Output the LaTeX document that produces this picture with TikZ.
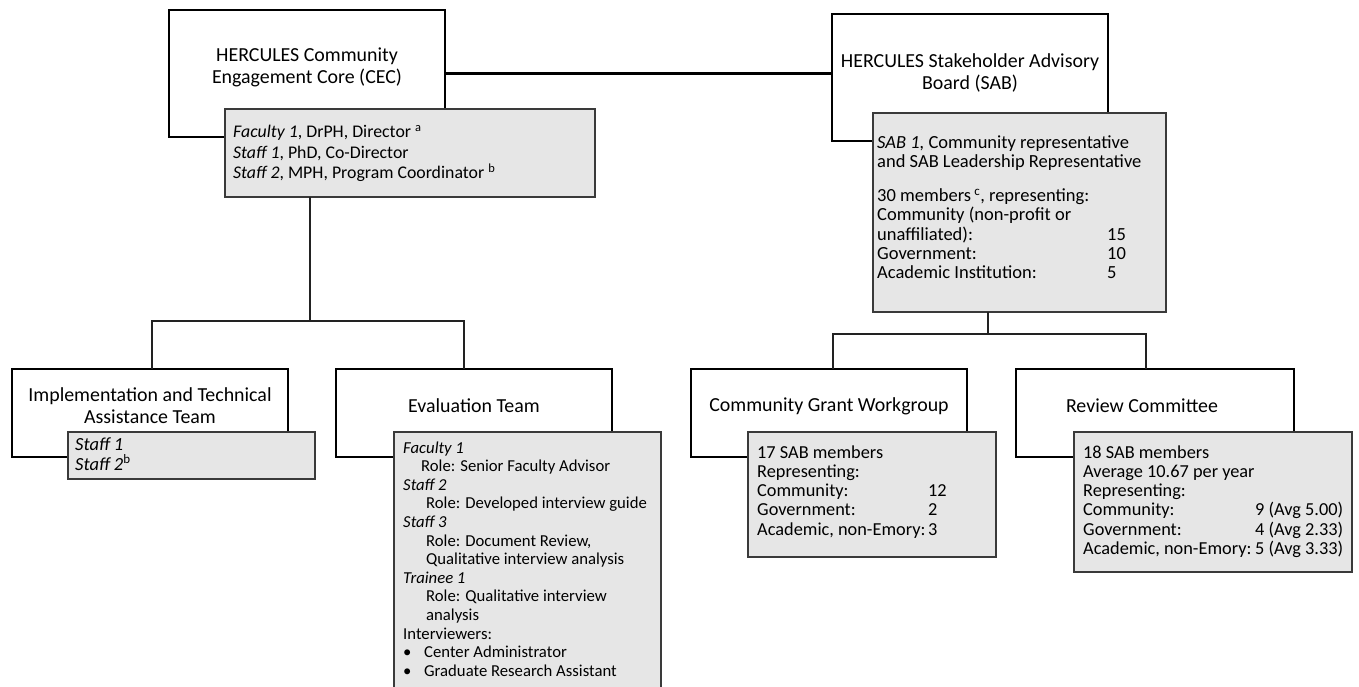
\documentclass[tikz,border=0pt]{standalone}
\usepackage{fontspec}
\setmainfont{Carlito}
\definecolor{boxgray}{HTML}{E6E6E6}
\definecolor{boxline}{HTML}{3A3A3A}
\definecolor{connline}{HTML}{222222}
\begin{document}
\begin{tikzpicture}[x=1pt,y=-1pt,
  outerbox/.style={draw=black, line width=2pt, fill=white, anchor=north west, inner sep=0pt, outer sep=0pt},
  graybox/.style={draw=boxline, line width=1.4pt, fill=boxgray, anchor=north west, inner sep=0pt, outer sep=0pt},
  headtxt/.style={align=center, inner sep=0pt, font=\fontsize{19.9}{22}\selectfont},
  bodytxt/.style={anchor=base west, inner sep=0pt},
  conn/.style={draw=connline, line width=1.4pt},
  mainconn/.style={draw=black, line width=3pt},
]
\useasboundingbox (0,0) rectangle (1359,686);
\clip (0,0) rectangle (1359,686);

% ---------- top level ----------
\node[outerbox, minimum width=276pt, minimum height=127pt] (cec) at (169,10) {};
\node[headtxt] (cect) at (307,67.5) {HERCULES Community\\Engagement Core (CEC)};
\node[graybox, minimum width=370pt, minimum height=88pt] (cecg) at (225,109) {};
\node[bodytxt] (cecgt) at (233,137.5) {\parbox[t]{355pt}{\fontsize{17.8}{20.5}\selectfont
  \textit{Faculty 1}, DrPH, Director \textsuperscript{a}\\
  \textit{Staff 1}, PhD, Co-Director\\
  \textit{Staff 2}, MPH, Program Coordinator \textsuperscript{b}}};

\node[outerbox, minimum width=276pt, minimum height=127pt] (sab) at (832,14) {};
\node[headtxt] (sabt) at (970,72.5) {HERCULES Stakeholder Advisory\\Board (SAB)};
\node[graybox, minimum width=293pt, minimum height=199pt] (sabg) at (873,113) {};
\node[bodytxt] (sabgt) at (877,148) {\parbox[t]{285pt}{\fontsize{18.5}{19.4}\selectfont
  \textit{SAB 1,} Community representative\\
  and SAB Leadership Representative\\[14.5pt]
  30 members\,\textsuperscript{c}, representing:\\
  Community (non-profit or\\
  \makebox[230pt][l]{unaffiliated):}15\\
  \makebox[230pt][l]{Government:}10\\
  \makebox[230pt][l]{Academic Institution:}5}};

\draw[mainconn] (cec.east) -- (cec.east -| sab.west);

% ---------- left branch ----------
\node[outerbox, minimum width=276pt, minimum height=88pt] (impl) at (12,369) {};
\node[headtxt] (implt) at (150,405.5) {Implementation and Technical\\Assistance Team};
\node[graybox, minimum width=247pt, minimum height=47pt] (implg) at (68,432) {};
\node[bodytxt] (implgt) at (75,450) {\parbox[t]{235pt}{\fontsize{18.5}{20}\selectfont
  \textit{Staff 1}\\
  \textit{Staff 2}\textsuperscript{b}}};

\node[outerbox, minimum width=276pt, minimum height=88pt] (eval) at (336,369) {};
\node[headtxt] (evalt) at (474,406) {Evaluation Team};
\node[graybox, minimum width=267pt, minimum height=280pt] (evalg) at (394,432) {};
\node[bodytxt] (evalgt) at (403,453) {\parbox[t]{255pt}{\fontsize{16.7}{18.6}\selectfont
  \textit{Faculty 1}\\
  \hspace*{18pt}Role: Senior Faculty Advisor\\
  \textit{Staff 2}\\
  \hspace*{23pt}Role: Developed interview guide\\
  \textit{Staff 3}\\
  \hspace*{23pt}Role: Document Review,\\
  \hspace*{23pt}Qualitative interview analysis\\
  \textit{Trainee 1}\\
  \hspace*{23pt}Role: Qualitative interview\\
  \hspace*{23pt}analysis\\
  Interviewers:\\
  \makebox[21pt][l]{\textbullet}Center Administrator\\
  \makebox[21pt][l]{\textbullet}Graduate Research Assistant}};

\coordinate (lj) at (310,321);
\coordinate (ld1) at (152,321);
\coordinate (ld2) at (464,321);
\draw[conn] (cecg.south -| lj) -- (lj);
\draw[conn] (ld1 |- impl.north) -- (ld1) -- (ld2) -- (ld2 |- eval.north);

% ---------- right branch ----------
\node[outerbox, minimum width=276pt, minimum height=88pt] (cgw) at (691,369) {};
\node[headtxt] (cgwt) at (829,406) {Community Grant Workgroup};
\node[graybox, minimum width=248pt, minimum height=125pt] (cgwg) at (748,432) {};
\node[bodytxt] (cgwgt) at (757,458) {\parbox[t]{235pt}{\fontsize{18.3}{19.3}\selectfont
  17 SAB members\\
  Representing:\\
  \makebox[171pt][l]{Community:}12\\
  \makebox[171pt][l]{Government:}2\\
  \makebox[171pt][l]{Academic, non-Emory:}3}};

\node[outerbox, minimum width=278pt, minimum height=88pt] (rev) at (1016,369) {};
\node[headtxt] (revt) at (1142,406) {Review Committee};
\node[graybox, minimum width=278pt, minimum height=140pt] (revg) at (1074,432) {};
\node[bodytxt] (revgt) at (1083,458) {\parbox[t]{265pt}{\fontsize{18.3}{19.3}\selectfont
  18 SAB members\\
  Average 10.67 per year\\
  Representing:\\
  \makebox[172pt][l]{Community:}9 (Avg 5.00)\\
  \makebox[172pt][l]{Government:}4 (Avg 2.33)\\
  \makebox[172pt][l]{Academic, non-Emory:}5 (Avg 3.33)}};

\coordinate (rj) at (988,334);
\coordinate (rd1) at (833,334);
\coordinate (rd2) at (1146,334);
\draw[conn] (sabg.south -| rj) -- (rj);
\draw[conn] (rd1 |- cgw.north) -- (rd1) -- (rd2) -- (rd2 |- rev.north);
\end{tikzpicture}
\end{document}
